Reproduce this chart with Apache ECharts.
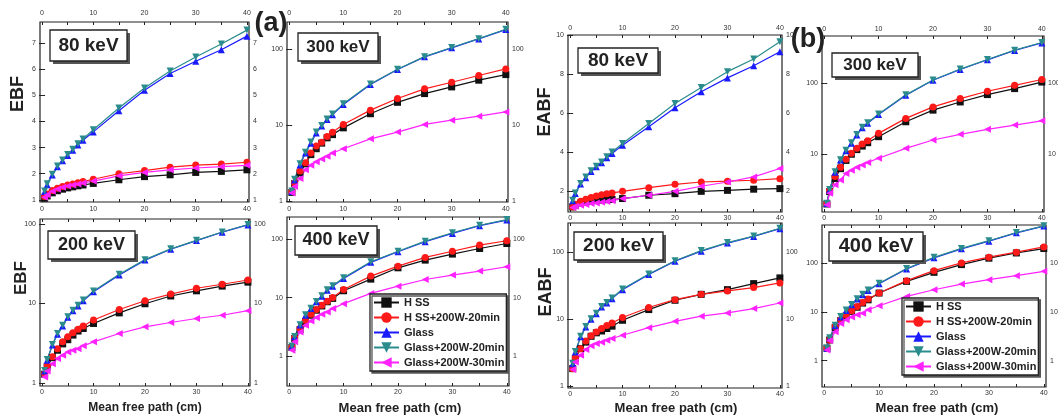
<!DOCTYPE html>
<html>
<head>
<meta charset="utf-8">
<script src="https://cdn.jsdelivr.net/npm/echarts@6/dist/echarts.min.js"></script>
<style>
  html, body { margin: 0; padding: 0; background: #fff; }
  #main { width: 1058px; height: 417px; }
</style>
</head>
<body>
<div id="main"></div>
<script>
// mean free path (cm) sampling points
var mfp = [0.5, 1, 2, 3, 4, 5, 6, 7, 8, 10, 15, 20, 25, 30, 35, 40];
var seriesNames = ['H SS', 'H SS+200W-20min', 'Glass', 'Glass+200W-20min', 'Glass+200W-30min'];
var xLabelValues = [0, 10, 20, 30, 40];
var xTickValues = [0, 5, 10, 15, 20, 25, 30, 35, 40];

// (a) EBF, 80 keV
var ebf80Hss    = [1.06, 1.15, 1.27, 1.35, 1.41, 1.46, 1.50, 1.54, 1.57, 1.63, 1.77, 1.89, 1.96, 2.05, 2.09, 2.15];
var ebf80Hss20  = [1.13, 1.23, 1.36, 1.45, 1.51, 1.57, 1.61, 1.66, 1.70, 1.79, 2.00, 2.12, 2.25, 2.33, 2.37, 2.44];
var ebf80Glass  = [1.32, 1.58, 1.95, 2.27, 2.50, 2.70, 2.90, 3.10, 3.28, 3.60, 4.41, 5.19, 5.83, 6.30, 6.74, 7.26];
var ebf80Gl20   = [1.34, 1.62, 1.98, 2.30, 2.53, 2.74, 2.94, 3.15, 3.33, 3.68, 4.51, 5.28, 5.93, 6.46, 6.96, 7.49];
var ebf80Gl30   = [1.10, 1.20, 1.33, 1.42, 1.48, 1.53, 1.57, 1.61, 1.65, 1.72, 1.92, 2.05, 2.15, 2.22, 2.27, 2.32];
// (a) EBF, 300 keV
var ebf300Hss   = [1.31, 1.70, 2.36, 3.1, 4.1, 4.9, 5.8, 6.8, 7.5, 9.2, 14.1, 19.9, 25.9, 31.7, 38.8, 46];
var ebf300Hss20 = [1.35, 1.74, 2.5, 3.2, 4.3, 5.3, 5.95, 7.1, 8.05, 10.2, 15.7, 22.3, 29.9, 36.5, 44.7, 54.6];
var ebf300Glass = [1.35, 1.9, 3.0, 4.3, 5.8, 7.9, 9.7, 11.8, 13.7, 18.6, 34, 53.5, 78.5, 103, 135, 179];
var ebf300Gl20  = [1.37, 1.95, 3.1, 4.4, 6.0, 8.1, 9.9, 12.0, 14.0, 19.0, 34.5, 54, 79, 104, 136, 181];
var ebf300Gl30  = [1.29, 1.57, 2.0, 2.6, 2.97, 3.3, 3.6, 3.9, 4.3, 4.9, 6.6, 8.1, 10.2, 11.6, 13.1, 14.9];
// (a) EBF, 200 keV
var ebf200Hss   = [1.29, 1.6, 2.08, 2.58, 3.1, 3.5, 4.0, 4.5, 4.84, 5.6, 7.6, 9.9, 12.4, 14.4, 16.5, 18.5];
var ebf200Hss20 = [1.31, 1.67, 2.13, 2.7, 3.3, 3.8, 4.27, 4.75, 5.2, 6.2, 8.4, 10.8, 13.1, 15.5, 17.4, 19.7];
var ebf200Glass = [1.42, 1.93, 3.0, 4.1, 5.2, 6.7, 8.1, 9.3, 10.8, 14, 22.8, 35, 48, 61.6, 78.5, 97];
var ebf200Gl20  = [1.44, 1.97, 3.05, 4.2, 5.3, 6.8, 8.2, 9.5, 11.0, 14.3, 23.2, 35.5, 48.5, 62, 79, 98];
var ebf200Gl30  = [1.19, 1.42, 1.75, 2.03, 2.23, 2.46, 2.58, 2.7, 2.93, 3.29, 4.19, 5.08, 5.76, 6.46, 7.1, 8.1];
// (a) EBF, 400 keV
var ebf400Hss   = [1.41, 2.0, 2.85, 3.9, 5.0, 6.1, 7.2, 8.5, 9.7, 13.1, 20.7, 32.3, 43.7, 55.4, 69, 84];
var ebf400Hss20 = [1.44, 2.09, 2.97, 4.1, 5.2, 6.3, 7.4, 8.7, 10.1, 13.8, 23.3, 34.5, 48.6, 62, 79, 93.6];
var ebf400Glass = [1.48, 2.14, 3.4, 5.0, 6.5, 8.5, 10.6, 13.4, 15.7, 21.3, 40, 60.7, 90, 125, 169, 211];
var ebf400Gl20  = [1.5, 2.18, 3.45, 5.1, 6.6, 8.6, 10.8, 13.6, 16, 21.8, 41, 62, 92, 128, 172, 215];
var ebf400Gl30  = [1.27, 1.76, 2.6, 3.39, 4.0, 4.6, 5.2, 5.7, 6.5, 7.9, 11.8, 15.7, 20.4, 24.3, 28.4, 33.7];

// (b) EABF, 80 keV
var eabf80Hss    = [1.18, 1.28, 1.38, 1.44, 1.48, 1.51, 1.53, 1.55, 1.56, 1.61, 1.78, 1.86, 1.98, 2.03, 2.09, 2.12];
var eabf80Hss20  = [1.18, 1.32, 1.47, 1.57, 1.66, 1.74, 1.81, 1.86, 1.90, 1.98, 2.17, 2.34, 2.46, 2.50, 2.55, 2.63];
var eabf80Glass  = [1.50, 1.87, 2.35, 2.68, 3.00, 3.24, 3.45, 3.70, 3.92, 4.35, 5.29, 6.27, 7.09, 7.80, 8.42, 9.14];
var eabf80Gl20   = [1.52, 1.90, 2.38, 2.72, 3.03, 3.27, 3.49, 3.75, 4.00, 4.43, 5.46, 6.49, 7.31, 8.12, 8.77, 9.66];
var eabf80Gl30   = [1.15, 1.21, 1.27, 1.30, 1.35, 1.38, 1.42, 1.46, 1.50, 1.61, 1.78, 1.98, 2.24, 2.46, 2.72, 3.15];
// (b) EABF, 300 keV
var eabf300Hss   = [1.97, 2.95, 4.5, 6.2, 8.1, 9.9, 11.5, 12.9, 14.4, 17.5, 28.4, 41.4, 54, 68.6, 83.3, 103];
var eabf300Hss20 = [2.0, 3.06, 4.8, 6.5, 8.4, 10.2, 12, 13.8, 15.4, 19.5, 31.7, 46, 60.3, 76.4, 92.7, 112];
var eabf300Glass = [2.0, 3.1, 5.5, 8.2, 11.1, 14.1, 18.5, 23.4, 27, 36, 67, 109, 155, 212, 287, 367];
var eabf300Gl20  = [2.02, 3.15, 5.6, 8.3, 11.3, 14.4, 18.8, 23.8, 27.5, 36.5, 68, 110, 157, 214, 290, 372];
var eabf300Gl30  = [1.93, 2.8, 3.67, 4.3, 5.3, 5.9, 6.5, 7.0, 7.6, 8.7, 12, 15.7, 18.9, 22.2, 25.5, 29.3];
// (b) EABF, 200 keV
var eabf200Hss   = [1.81, 2.56, 3.6, 4.5, 5.5, 6.2, 6.6, 7.2, 7.8, 9.55, 13.8, 19, 23.3, 27.4, 33.7, 41];
var eabf200Hss20 = [1.81, 2.65, 3.6, 4.7, 5.6, 6.4, 7.2, 8.0, 8.7, 10.5, 14.8, 19.4, 23.3, 26.2, 29.4, 34.5];
var eabf200Glass = [2.15, 3.2, 5.4, 7.6, 9.9, 12, 15.1, 17.3, 20.1, 27.4, 46, 73, 103, 136, 171, 223];
var eabf200Gl20  = [2.18, 3.25, 5.5, 7.7, 10.1, 12.2, 15.4, 17.6, 20.5, 28, 47, 74, 105, 138, 173, 226];
var eabf200Gl30  = [1.75, 2.28, 2.87, 3.5, 3.96, 4.3, 4.5, 4.8, 5.1, 5.7, 7.4, 9.2, 11, 12.3, 14.3, 17.3];
// (b) EABF, 400 keV
var eabf400Hss   = [1.8, 2.66, 4.8, 6.6, 8.3, 10.2, 12.4, 15.1, 17.6, 24.2, 42, 64.3, 92.5, 125, 160, 197];
var eabf400Hss20 = [1.8, 2.66, 5.0, 6.9, 8.7, 10.5, 12.9, 15.6, 18.2, 24.2, 43.4, 69.5, 100, 131, 166, 213];
var eabf400Glass = [1.8, 2.9, 5.2, 7.8, 10.6, 13.9, 18.2, 22.3, 27.4, 37.6, 75, 127, 194, 279, 413, 567];
var eabf400Gl20  = [1.82, 2.95, 5.3, 8.0, 10.9, 14.2, 18.6, 22.8, 28, 38.5, 77, 130, 198, 285, 420, 575];
var eabf400Gl30  = [1.66, 2.58, 3.9, 5.8, 6.9, 7.8, 8.7, 9.4, 11, 13.3, 20.7, 28.3, 37, 45.5, 55, 67.4];

var font = 'Liberation Sans, Arial, sans-serif';
var colors = ['#111111', '#ff1a1a', '#1a1aff', '#2a8c8c', '#ff22ff'];
var symbols = ['rect', 'circle', 'triangle', 'triangle', 'triangle'];
var rotates = [0, 0, 0, 180, 90];

// one entry per panel: grid box, y scale, which x labels to show
var panels = [
  { box: [40, 22, 209, 180],  type: 'value', min: 0.92, max: 7.8, yVals: [1, 2, 3, 4, 5, 6, 7], topLab: 5, botLab: 4,
    data: [ebf80Hss, ebf80Hss20, ebf80Glass, ebf80Gl20, ebf80Gl30] },
  { box: [287, 22, 221, 180], type: 'log', min: 0.98, max: 225, topLab: 5, botLab: 4,
    data: [ebf300Hss, ebf300Hss20, ebf300Glass, ebf300Gl20, ebf300Gl30] },
  { box: [40, 219, 210, 167], type: 'log', min: 0.917, max: 115, topLab: 0, botLab: 3,
    data: [ebf200Hss, ebf200Hss20, ebf200Glass, ebf200Gl20, ebf200Gl30] },
  { box: [287, 217, 222, 169], type: 'log', min: 0.31, max: 238, topLab: 0, botLab: 3,
    data: [ebf400Hss, ebf400Hss20, ebf400Glass, ebf400Gl20, ebf400Gl30] },
  { box: [568, 35, 214, 177], type: 'value', min: 0.92, max: 10, yVals: [2, 4, 6, 8, 10], topLab: 3, botLab: 3,
    data: [eabf80Hss, eabf80Hss20, eabf80Glass, eabf80Gl20, eabf80Gl30] },
  { box: [822, 36, 222, 176], type: 'log', min: 1.52, max: 459, topLab: 3, botLab: 3,
    data: [eabf300Hss, eabf300Hss20, eabf300Glass, eabf300Gl20, eabf300Gl30] },
  { box: [568, 223, 214, 165], type: 'log', min: 0.93, max: 271, topLab: 0, botLab: 3,
    data: [eabf200Hss, eabf200Hss20, eabf200Glass, eabf200Gl20, eabf200Gl30] },
  { box: [822, 225, 224, 162], type: 'log', min: 0.29, max: 597, topLab: 0, botLab: 3,
    data: [eabf400Hss, eabf400Hss20, eabf400Glass, eabf400Gl20, eabf400Gl30] }
];

var grids = [], xAxes = [], yAxes = [], series = [];
var tickStyle = { inside: true, length: 3, lineStyle: { color: '#222', width: 1 } };
var labStyle = { fontSize: 7, color: '#333', fontFamily: font };

panels.forEach(function (p, i) {
  grids.push({ left: p.box[0], top: p.box[1], width: p.box[2], height: p.box[3],
    show: true, borderColor: '#222', borderWidth: 1.2, containLabel: false, outerBoundsMode: 'none' });
  ['bottom', 'top'].forEach(function (pos) {
    var m = pos === 'bottom' ? p.botLab : p.topLab;
    xAxes.push({ gridIndex: i, type: 'value', position: pos, min: -0.4, max: 40.4,
      axisLine: { show: false }, splitLine: { show: false },
      axisTick: Object.assign({ customValues: xTickValues }, tickStyle),
      axisLabel: Object.assign({ show: m > 0, margin: m, customValues: xLabelValues }, labStyle) });
  });
  ['left', 'right'].forEach(function (pos) {
    var ax = { gridIndex: i, type: p.type, position: pos, min: p.min, max: p.max,
      axisLine: { show: false }, splitLine: { show: false },
      axisTick: Object.assign({}, tickStyle),
      axisLabel: Object.assign({ margin: 4 }, labStyle) };
    if (p.type === 'log') {
      ax.logBase = 10;
      ax.axisLabel.showMinLabel = false;
      ax.axisLabel.showMaxLabel = false;
    } else {
      ax.axisTick.customValues = p.yVals;
      ax.axisLabel.customValues = p.yVals;
    }
    yAxes.push(ax);
  });
  p.data.forEach(function (vals, k) {
    series.push({
      name: seriesNames[k], type: 'line',
      xAxisIndex: i * 2, yAxisIndex: i * 2,
      data: mfp.map(function (x, j) { return [x, vals[j]]; }),
      symbol: symbols[k], symbolRotate: rotates[k], symbolSize: 7,
      itemStyle: { color: colors[k] },
      lineStyle: { color: colors[k], width: 1.2 },
      emphasis: { disabled: true }
    });
  });
});

// energy label boxes with drop shadow
function keVBox(x, y, w, h, text, size) {
  return [
    { type: 'rect', shape: { x: x + 3, y: y + 3, width: w, height: h }, style: { fill: '#555' }, z: 100 },
    { type: 'rect', shape: { x: x, y: y, width: w, height: h }, style: { fill: '#fff', stroke: '#222', lineWidth: 1.3 }, z: 101 },
    { type: 'text', x: x + w / 2, y: y + h / 2, z: 102,
      style: { text: text, fill: '#222', font: 'bold ' + size + 'px ' + font, align: 'center', verticalAlign: 'middle' } }
  ];
}
function label(x, y, text, size, rot) {
  return { type: 'text', x: x, y: y, rotation: rot || 0, z: 102,
    style: { text: text, fill: '#222', font: 'bold ' + size + 'px ' + font, align: 'center', verticalAlign: 'middle' } };
}

var graphics = [].concat(
  keVBox(50, 30, 77, 31, '80 keV', 19),
  keVBox(298, 33, 80, 28, '300 keV', 17),
  keVBox(48, 231, 87, 28, '200 keV', 18),
  keVBox(295, 226, 82, 29, '400 keV', 18),
  keVBox(578, 48, 80, 25, '80 keV', 19),
  keVBox(832, 53, 86, 24, '300 keV', 17),
  keVBox(574, 232, 89, 28, '200 keV', 19),
  keVBox(829, 232, 94, 29, '400 keV', 20),
  [
    label(271, 24, '(a)', 27),
    label(808, 40, '(b)', 27),
    label(18, 94, 'EBF', 18, Math.PI / 2),
    label(21, 278, 'EBF', 17, Math.PI / 2),
    label(545, 112, 'EABF', 18, Math.PI / 2),
    label(546, 292, 'EABF', 18, Math.PI / 2),
    label(145, 408, 'Mean free path (cm)', 12),
    label(400, 408, 'Mean free path (cm)', 13),
    label(676, 408, 'Mean free path (cm)', 13),
    label(937, 408, 'Mean free path (cm)', 13)
  ]
);

function legendAt(left, top) {
  return {
    left: left, top: top, orient: 'vertical', data: seriesNames,
    itemWidth: 25, itemHeight: 13, itemGap: 4, selectedMode: false,
    padding: [3, 2, 3, 3], borderColor: '#222', borderWidth: 1.3, backgroundColor: '#fff',
    shadowColor: '#555', shadowOffsetX: 2, shadowOffsetY: 2, shadowBlur: 0,
    textStyle: { fontSize: 11, fontWeight: 'bold', color: '#222', fontFamily: font }
  };
}

var myChart = echarts.init(document.getElementById('main'));
myChart.setOption({
  animation: false,
  backgroundColor: '#fff',
  grid: grids,
  xAxis: xAxes,
  yAxis: yAxes,
  legend: [legendAt(370, 294), legendAt(902, 298)],
  series: series,
  graphic: graphics
});
</script>
</body>
</html>
